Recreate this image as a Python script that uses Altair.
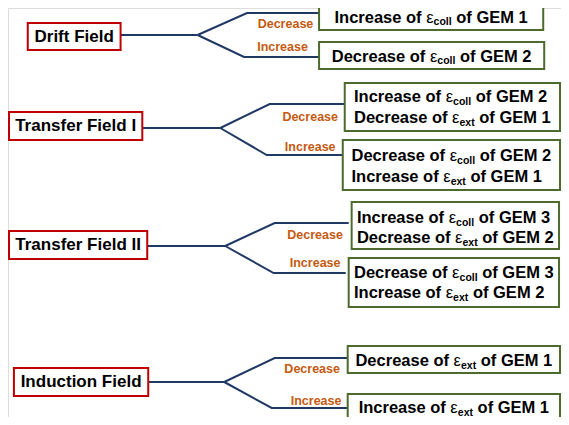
import altair as alt
import pandas as pd

# ---- left-hand "field" boxes ----
fields = ["Drift Field", "Transfer Field I", "Transfer Field II", "Induction Field"]
field_x1 = [28, 9, 9, 14]
field_x2 = [122, 144, 149, 150]
field_y1 = [23, 112, 231, 368]
field_y2 = [50, 140, 259, 396]

# ---- connector geometry ----
stem_y = [35, 128, 246, 382]
branch_x = [200, 223, 228, 227]
up_elbow_x = [250, 273, 278, 278]
up_y = [13, 104, 223, 358]
up_end_x = [323, 350, 353, 352]
low_elbow_x = [247, 270, 277, 275]
low_y = [57, 155, 273, 408]
low_end_x = [323, 347, 350, 352]

# ---- branch labels ----
dec_label = "Decrease"
inc_label = "Increase"
dec_x = [289, 314, 319, 316]
dec_y = [24, 117, 235, 369]
inc_x = [286, 314, 319, 320]
inc_y = [47, 147, 263, 401]

# ---- effect boxes ----
eff_x1 = [323, 323, 349, 347, 356, 353, 352, 352]
eff_x2 = [550, 551, 567, 567, 566, 566, 567, 567]
eff_y1 = [3, 42, 83, 140, 202, 258, 346, 394]
eff_y2 = [30, 69, 131, 190, 249, 307, 373, 422]

# ---- effect text lines (box index, wording, line centre) ----
eff_box = [0, 1, 2, 2, 3, 3, 4, 4, 5, 5, 6, 7]
eff_verb = ["Increase", "Decrease", "Increase", "Decrease", "Decrease", "Increase",
            "Increase", "Decrease", "Decrease", "Increase", "Decrease", "Increase"]
eff_sub = ["coll", "coll", "coll", "ext", "coll", "ext",
           "coll", "ext", "coll", "ext", "ext", "ext"]
eff_gem = [1, 2, 2, 1, 2, 1, 3, 2, 3, 2, 1, 1]
eff_ty = [16.5, 55.5, 96, 117, 155, 176, 217, 237, 272, 292, 360, 407]

FONT = "Liberation Sans"
MAIN = 16.5
SUB = 10.5
EPS_W = 0.45

# x scale: page pixels 8..568 drawn on a 553 px wide plot
X_LO, X_HI, PLOT_W = 8, 568, 553
K = PLOT_W / (X_HI - X_LO)

BOLD_W = {" ": 278, "I": 278, "D": 722, "G": 778, "E": 667, "M": 833,
          "a": 556, "c": 556, "e": 556, "f": 333, "l": 278, "n": 611,
          "o": 611, "r": 389, "s": 556, "t": 333, "x": 556,
          "1": 556, "2": 556, "3": 556}


def tw(s, size):
    # text width in data units
    return sum(BOLD_W.get(ch, 556) for ch in s) / 1000.0 * size / K


# build tables
boxes_left = pd.DataFrame({"x": field_x1, "x2": field_x2, "y": field_y1, "y2": field_y2,
                           "label": fields,
                           "cx": [(a + b) / 2 for a, b in zip(field_x1, field_x2)],
                           "cy": [(a + b) / 2 for a, b in zip(field_y1, field_y2)]})
boxes_right = pd.DataFrame({"x": eff_x1, "x2": eff_x2, "y": eff_y1, "y2": eff_y2})

rows = []
for g in range(4):
    pts = {
        "stem": [(field_x2[g], stem_y[g]), (branch_x[g], stem_y[g])],
        "up": [(branch_x[g], stem_y[g]), (up_elbow_x[g], up_y[g]), (up_end_x[g], up_y[g])],
        "low": [(branch_x[g], stem_y[g]), (low_elbow_x[g], low_y[g]), (low_end_x[g], low_y[g])],
    }
    for name, p in pts.items():
        for i, (px, py) in enumerate(p):
            rows.append({"path": f"{g}-{name}", "order": i, "x": px, "y": py})
lines = pd.DataFrame(rows)

branch_labels = pd.DataFrame({"x": dec_x + inc_x, "y": dec_y + inc_y,
                              "t": [dec_label] * 4 + [inc_label] * 4})


def line_width(verb, sub, gem):
    return (tw(f"{verb} of ", MAIN) + EPS_W * MAIN / K + tw(sub, SUB)
            + tw(f" of GEM {gem}", MAIN))


# each box's lines are left-aligned together and the block is centred in the box
block_w = {}
for b, verb, sub, gem in zip(eff_box, eff_verb, eff_sub, eff_gem):
    block_w[b] = max(block_w.get(b, 0), line_width(verb, sub, gem))

main_rows, eps_rows, sub_rows = [], [], []
for b, verb, sub, gem, ty in zip(eff_box, eff_verb, eff_sub, eff_gem, eff_ty):
    tx = (eff_x1[b] + eff_x2[b]) / 2 - block_w[b] / 2
    pre = f"{verb} of"
    suf = f"of GEM {gem}"
    x_eps = tx + tw(pre + " ", MAIN)
    x_sub = x_eps + EPS_W * MAIN / K
    x_suf = x_sub + tw(sub, SUB) + tw(" ", MAIN)
    main_rows.append({"x": tx, "y": ty, "t": pre})
    main_rows.append({"x": x_suf, "y": ty, "t": suf})
    eps_rows.append({"x": x_eps, "y": ty, "t": "\u03b5"})
    sub_rows.append({"x": x_sub, "y": ty, "t": sub})
main_df = pd.DataFrame(main_rows)
eps_df = pd.DataFrame(eps_rows)
sub_df = pd.DataFrame(sub_rows)

xs = alt.Scale(domain=[X_LO, X_HI], nice=False, zero=False)
ys = alt.Scale(domain=[8, 417], nice=False, zero=False, reverse=True)
X = lambda f="x": alt.X(f"{f}:Q", scale=xs, axis=None)
Y = lambda f="y": alt.Y(f"{f}:Q", scale=ys, axis=None)

line_layer = alt.Chart(lines).mark_line(color="#1F3864", strokeWidth=2).encode(
    x=X(), y=Y(), detail="path:N", order="order:Q")

left_rect = alt.Chart(boxes_left).mark_rect(fill="white", stroke="#C00000", strokeWidth=2).encode(
    x=X(), x2="x2:Q", y=Y(), y2="y2:Q")
left_text = alt.Chart(boxes_left).mark_text(font=FONT, fontSize=17, fontWeight="bold",
                                            color="black", align="center", baseline="middle").encode(
    x=X("cx"), y=Y("cy"), text="label:N")

right_rect = alt.Chart(boxes_right).mark_rect(fill="white", stroke="#4E6B2E", strokeWidth=2).encode(
    x=X(), x2="x2:Q", y=Y(), y2="y2:Q")

lab_layer = alt.Chart(branch_labels).mark_text(font=FONT, fontSize=12.5, fontWeight="bold",
                                               color="#C55A11", align="center", baseline="middle").encode(
    x=X(), y=Y(), text="t:N")

main_text = alt.Chart(main_df).mark_text(font=FONT, fontSize=MAIN, fontWeight="bold", color="black",
                                         align="left", baseline="alphabetic", dy=6).encode(
    x=X(), y=Y(), text="t:N")
eps_text = alt.Chart(eps_df).mark_text(font=FONT, fontSize=MAIN, fontWeight="normal", color="black",
                                       align="left", baseline="alphabetic", dy=6).encode(
    x=X(), y=Y(), text="t:N")
sub_text = alt.Chart(sub_df).mark_text(font=FONT, fontSize=SUB, fontWeight="bold", color="black",
                                       align="left", baseline="alphabetic", dy=8.5).encode(
    x=X(), y=Y(), text="t:N")

chart = alt.layer(line_layer, left_rect, right_rect, left_text, lab_layer,
                  main_text, eps_text, sub_text).properties(
    width=PLOT_W, height=409, padding=0, autosize=alt.AutoSizeParams(type="none")
).configure_view(stroke=None).configure(background="white")

chart.save("out.html", embed_options={"renderer": "svg", "actions": False})
